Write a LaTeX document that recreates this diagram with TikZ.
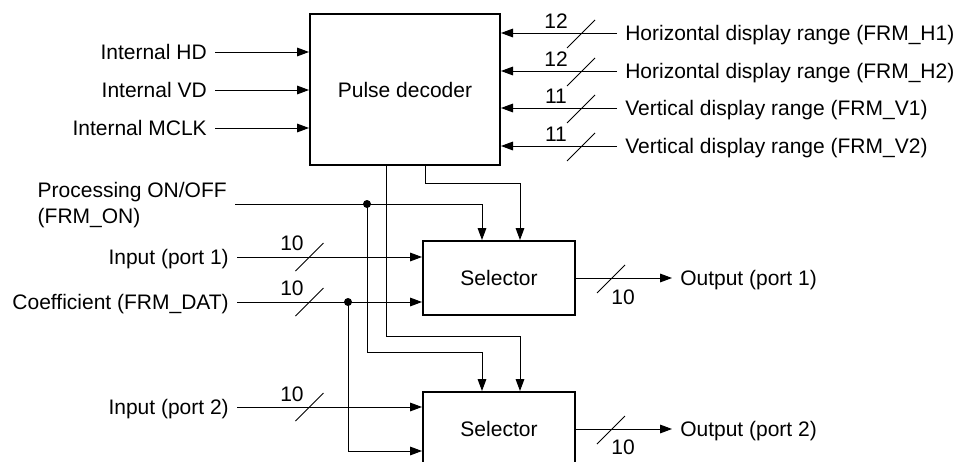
\documentclass[tikz,border=0pt]{standalone}
\usepackage{fontspec}
\setmainfont{Liberation Sans}
\usetikzlibrary{arrows.meta}

\begin{document}
\begin{tikzpicture}[x=0.75pt,y=-0.75pt,
	every node/.style={font=\fontsize{15.75}{19}\selectfont},
	blk/.style={draw,line width=1.5pt,inner sep=0pt},
	lbl/.style={inner xsep=6pt,inner ysep=0pt,text height=11.3pt,text depth=0pt},
	wire/.style={line width=0.75pt},
	sig/.style={wire,-{Triangle[length=9pt,width=6.5pt]}},
	dot/.style={circle,fill,inner sep=0pt,minimum size=6pt},
	bus/.pic={\draw[wire] (-14,14) -- (14,-14);}]
	\useasboundingbox (0,0) rectangle (961,461);
	\clip (0,0) rectangle (961,461);
	\node[blk,minimum width=142.5pt,minimum height=113.25pt] (pd) at (405,89.5) {Pulse decoder};
	\node[blk,minimum width=114pt,minimum height=55.5pt] (sel1) at (499,278) {Selector};
	\node[blk,minimum width=114pt,minimum height=55.5pt] (sel2) at (499,429) {Selector};

	\node[lbl,anchor=east] (hd) at (215,52) {Internal HD};
	\node[lbl,anchor=east] (vd) at (215,90) {Internal VD};
	\node[lbl,anchor=east] (mclk) at (215,128) {Internal MCLK};
	\foreach \n in {hd,vd,mclk}
		\draw[sig] (\n.east) -- (\n.east -| pd.west);

	\foreach \n/\y/\w/\t in {h1/33/12/{Horizontal display range (FRM\_H1)},
			h2/71/12/{Horizontal display range (FRM\_H2)},
			v1/108/11/{Vertical display range (FRM\_V1)},
			v2/146/11/{Vertical display range (FRM\_V2)}} {
		\node[lbl,anchor=west] (\n) at (617,\y) {\t};
		\draw[sig] (\n.west) -- (\n.west -| pd.east);
		\pic at (581,\y+1) {bus};
		\node (w\n) at (556,\y-12) {\w};
	}

	\node[inner xsep=6pt,inner ysep=0pt,anchor=east,align=left] (onoff) at (235,205) {Processing ON/OFF\\(FRM\_ON)};
	\node[lbl,anchor=east] (in1) at (237,257) {Input (port 1)};
	\node[lbl,anchor=east] (coef) at (237,302) {Coefficient (FRM\_DAT)};
	\node[lbl,anchor=east] (in2) at (237,407) {Input (port 2)};
	\node[dot] (jo) at (367,204) {};
	\node[dot] (jc) at (348,302) {};

	\draw[sig] (onoff.east |- jo) -| (sel1.north -| 482,0);
	\draw[sig] (jo.center) |- (482,352) -- (sel2.north -| 482,0);
	\draw[sig] (pd.south -| 425,0) |- (520,183) -- (sel1.north -| 520,0);
	\draw[sig] (pd.south -| 386,0) |- (520,336) -- (sel2.north -| 520,0);
	\draw[sig] (in1.east) -- (in1.east -| sel1.west);
	\draw[sig] (coef.east) -- (coef.east -| sel1.west);
	\draw[sig] (in2.east) -- (in2.east -| sel2.west);
	\draw[sig] (jc.center) |- (sel2.west |- 0,451);
	\pic at (309.5,257) {bus};
	\pic at (309.5,302) {bus};
	\pic at (309.5,407) {bus};
	\node (wi1) at (292,243) {10};
	\node (wc) at (292,288) {10};
	\node (wi2) at (292,394) {10};

	\node[lbl,anchor=west] (out1) at (672,278) {Output (port 1)};
	\node[lbl,anchor=west] (out2) at (672,429) {Output (port 2)};
	\draw[sig] (sel1.east) -- (out1.west);
	\draw[sig] (sel2.east) -- (out2.west);
	\pic at (611,279) {bus};
	\pic at (611,430) {bus};
	\node (wo1) at (623,297) {10};
	\node (wo2) at (623,447) {10};
\end{tikzpicture}
\end{document}
